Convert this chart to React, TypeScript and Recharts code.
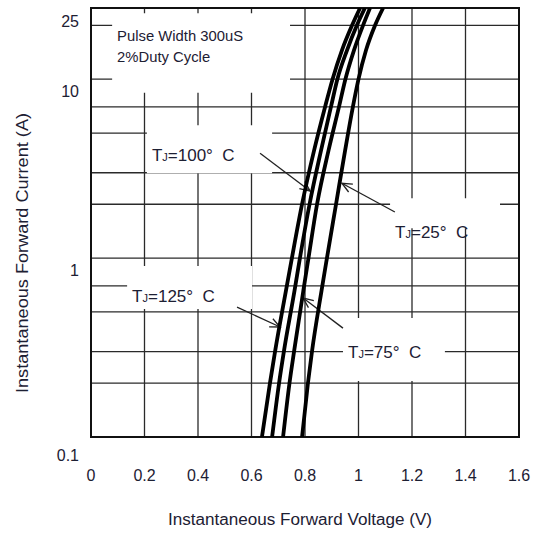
import React from 'react';
import { LineChart, Line, XAxis, YAxis, CartesianGrid, ReferenceArea, ReferenceLine } from 'recharts';

// forward current points (A) shared by all four curves
const currentA = [0.1, 0.2, 0.3, 0.66, 1, 2, 4, 7, 10, 14.5, 20, 25];

// forward voltage (V) at each current, per junction temperature
const vf125 = [0.639, 0.669, 0.688, 0.729, 0.751, 0.789, 0.834, 0.875, 0.903, 0.938, 0.976, 1.006];
const vf100 = [0.677, 0.703, 0.721, 0.761, 0.781, 0.817, 0.86, 0.897, 0.921, 0.957, 0.994, 1.024];
const vf75 = [0.718, 0.742, 0.759, 0.794, 0.813, 0.845, 0.888, 0.927, 0.951, 0.983, 1.017, 1.043];
const vf25 = [0.789, 0.811, 0.826, 0.862, 0.882, 0.916, 0.95, 0.979, 1.0, 1.028, 1.062, 1.092];

const voltTicks = [0, 0.2, 0.4, 0.6, 0.8, 1, 1.2, 1.4, 1.6];
const currentTicks = [0.1, 1, 10, 25];
const gridVolts = [0.2, 0.4, 0.6, 0.8, 1, 1.2, 1.4];
const gridCurrents = [0.2, 0.3, 0.4, 0.5, 0.6, 0.7, 0.8, 0.9, 1, 2, 3, 4, 5, 6, 7, 8, 9, 10, 20];

const curves = [
  { key: 't125', vf: vf125 },
  { key: 't100', vf: vf100 },
  { key: 't75', vf: vf75 },
  { key: 't25', vf: vf25 },
];

// white label boxes that blank the grid behind the notes
const notes = [
  { v1: 0.079, v2: 0.744, i1: 8.4, i2: 23.4, dy: 28, text: ['Pulse Width 300uS', '2%Duty Cycle'], widths: [126, 93] },
  { v1: 0.209, v2: 0.677, i1: 2.98, i2: 5.53, dy: 36, temp: '100' },
  { v1: 1.118, v2: 1.529, i1: 1.47, i2: 2.16, dy: 40, temp: '25' },
  { v1: 0.135, v2: 0.602, i1: 0.519, i2: 0.902, dy: 36, temp: '125' },
  { v1: 0.942, v2: 1.323, i1: 0.2055, i2: 0.462, dy: 40, temp: '75' },
];

// arrows from each note to its curve: [V, A] start and tip
const arrows = [
  { from: [0.632, 3.86], to: [0.819, 2.37] },
  { from: [1.136, 1.81], to: [0.938, 2.62] },
  { from: [0.546, 0.532], to: [0.707, 0.412] },
  { from: [0.942, 0.406], to: [0.793, 0.598] },
];

const FONT = '"Liberation Sans", Arial, sans-serif';
const INK = '#1d2033';

const XTick = ({ x, y, payload }: any) => (
  <text x={x} y={y + 44} textAnchor="middle" fontFamily={FONT} fontSize={16} fill={INK}>
    {payload.value}
  </text>
);

const YTick = ({ x, y, payload }: any) => (
  <text x={x - 12} y={y + (payload.value === 0.1 ? 24 : 18)} textAnchor="end" fontFamily={FONT} fontSize={16} fill={INK}>
    {payload.value}
  </text>
);

const Arrow = (p: any) => {
  const { x1, y1, x2, y2 } = p;
  const a = Math.atan2(y2 - y1, x2 - x1);
  const len = 11;
  const h1 = [x2 - len * Math.cos(a - 0.42), y2 - len * Math.sin(a - 0.42)];
  const h2 = [x2 - len * Math.cos(a + 0.42), y2 - len * Math.sin(a + 0.42)];
  return (
    <g stroke="#222" strokeWidth={1.3} fill="none">
      <line x1={x1} y1={y1} x2={x2} y2={y2} />
      <polyline points={`${h1[0]},${h1[1]} ${x2},${y2} ${h2[0]},${h2[1]}`} />
    </g>
  );
};

const noteLabel = (n: any) => (p: any) => {
  const vb = p.viewBox;
  const x = vb.x + 5;
  if (n.text) {
    return (
      <g fontFamily={FONT} fontSize={14} fill={INK}>
        <text x={x} y={vb.y + 28} textLength={n.widths[0]} lengthAdjust="spacingAndGlyphs">{n.text[0]}</text>
        <text x={x} y={vb.y + 49} textLength={n.widths[1]} lengthAdjust="spacingAndGlyphs">{n.text[1]}</text>
      </g>
    );
  }
  return (
    <text x={x} y={vb.y + n.dy} fontFamily={FONT} fontSize={17} fill={INK}>
      T<tspan fontSize={11}>J</tspan>
      <tspan>{`=${n.temp}°\u00a0\u00a0C`}</tspan>
    </text>
  );
};

export default function App() {
  return (
    <div style={{ position: 'absolute', left: 0, top: 0, background: '#fff' }}>
      <LineChart width={537} height={535} margin={{ top: 8, right: 18, left: 0, bottom: 0 }}>
        <CartesianGrid
          horizontalValues={gridCurrents}
          verticalValues={gridVolts}
          stroke="#2a2a2a"
          strokeWidth={1.3}
        />
        <XAxis
          type="number"
          dataKey="v"
          domain={[0, 1.6]}
          ticks={voltTicks}
          allowDataOverflow
          height={98}
          tickSize={0}
          tickMargin={0}
          axisLine={false}
          tickLine={false}
          tick={<XTick />}
          label={(p: any) => (
            <text
              x={p.viewBox.x + 209}
              y={p.viewBox.y + 88}
              textAnchor="middle"
              textLength={264}
              lengthAdjust="spacingAndGlyphs"
              fontFamily={FONT}
              fontSize={16}
              fill={INK}
            >
              Instantaneous Forward Voltage (V)
            </text>
          )}
        />
        <YAxis
          type="number"
          scale="log"
          domain={[0.1, 25]}
          ticks={currentTicks}
          allowDataOverflow
          width={91}
          tickSize={0}
          tickMargin={0}
          axisLine={false}
          tickLine={false}
          tick={<YTick />}
          label={(p: any) => {
            const cx = p.viewBox.x + 22;
            const cy = p.viewBox.y + 245;
            return (
              <text
                x={cx}
                y={cy}
                transform={`rotate(-90 ${cx} ${cy})`}
                textAnchor="middle"
                dominantBaseline="central"
                textLength={280}
                lengthAdjust="spacingAndGlyphs"
                fontFamily={FONT}
                fontSize={17}
                fill={INK}
              >
                Instantaneous Forward Current (A)
              </text>
            );
          }}
        />
        {notes.map((n, k) => (
          <ReferenceArea
            key={`note-${k}`}
            x1={n.v1}
            x2={n.v2}
            y1={n.i1}
            y2={n.i2}
            fill="#fff"
            fillOpacity={1}
            stroke="none"
            label={noteLabel(n)}
          />
        ))}
        <ReferenceArea x1={0} x2={1.6} y1={0.1} y2={25} fill="none" stroke="#111" strokeWidth={2} />
        {arrows.map((a, k) => (
          <ReferenceLine
            key={`arrow-${k}`}
            segment={[{ x: a.from[0], y: a.from[1] }, { x: a.to[0], y: a.to[1] }]}
            shape={Arrow}
          />
        ))}
        {curves.map((c) => (
          <Line
            key={c.key}
            data={currentA.map((i, k) => ({ v: c.vf[k], i }))}
            dataKey="i"
            type="monotone"
            stroke="#000"
            strokeWidth={3.8}
            dot={false}
            isAnimationActive={false}
          />
        ))}
      </LineChart>
    </div>
  );
}
